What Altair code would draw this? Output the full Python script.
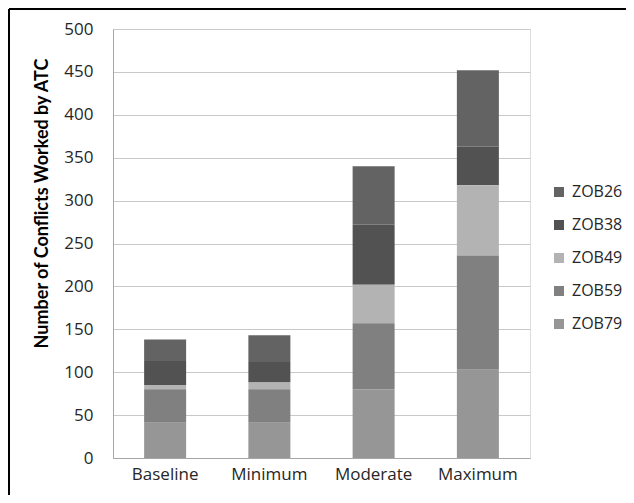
import altair as alt
import pandas as pd

scenarios = ["Baseline", "Minimum", "Moderate", "Maximum"]
sectors = ["ZOB26", "ZOB38", "ZOB49", "ZOB59", "ZOB79"]
colors = ["#636363", "#525252", "#b3b3b3", "#808080", "#969696"]
# stacking order bottom -> top
stack_order = {"ZOB79": 0, "ZOB59": 1, "ZOB49": 2, "ZOB38": 3, "ZOB26": 4}

zob79 = [41, 41, 80, 103]
zob59 = [39, 39, 77, 133]
zob49 = [5, 8, 45, 82]
zob38 = [28, 24, 70, 45]
zob26 = [25, 31, 68, 89]

series = {"ZOB26": zob26, "ZOB38": zob38, "ZOB49": zob49, "ZOB59": zob59, "ZOB79": zob79}
rows = []
for s in sectors:
    for i, sc in enumerate(scenarios):
        rows.append({"Scenario": sc, "Sector": s, "Conflicts": series[s][i], "ord": stack_order[s]})
df = pd.DataFrame(rows)

FONT = "Open Sans"
TFONT = "Lato"

bars = alt.Chart(df).mark_bar(size=42).encode(
    x=alt.X("Scenario:N", sort=scenarios, title=None,
            axis=alt.Axis(labelAngle=0, labelFontSize=17, labelColor="#262626",
                          labelFont=FONT, ticks=False, tickSize=0, labelPadding=8,
                          domainColor="#a6a6a6", grid=False)),
    y=alt.Y("sum(Conflicts):Q", title="Number of Conflicts Worked by ATC",
            scale=alt.Scale(domain=[0, 500], nice=False),
            axis=alt.Axis(values=list(range(0, 501, 50)), labelFontSize=17,
                          labelColor="#262626", labelFont=FONT, ticks=False, tickSize=0,
                          labelPadding=20, gridColor="#c8c8c8", domainColor="#a6a6a6",
                          titleFontSize=18, titleFont=TFONT, titleFontWeight="bold",
                          titleColor="#000000", titleX=-71, titleY=174,
                          titleBaseline="middle", titleAngle=270)),
    color=alt.Color("Sector:N", scale=alt.Scale(domain=sectors, range=colors),
                    legend=alt.Legend(title=None, orient="none", legendX=438, legendY=155,
                                      symbolType="square", symbolSize=100,
                                      symbolStrokeWidth=0, labelFontSize=16,
                                      labelFont=FONT, labelColor="#262626",
                                      labelOffset=5, rowPadding=17, padding=0)),
    order=alt.Order("ord:Q", sort="ascending"),
)

vline = alt.Chart(df).mark_rule(color="black", strokeWidth=2).encode(
    x=alt.value(-104), y=alt.value(-20), y2=alt.value(470)
)
hline = alt.Chart(df).mark_rule(color="black", strokeWidth=2).encode(
    y=alt.value(-20), x=alt.value(-104), x2=alt.value(520)
)

chart = alt.layer(bars, vline, hline).properties(
    width=417, height=429,
    autosize=alt.AutoSizeParams(type="none"),
    padding={"left": 105, "top": 21, "right": 96, "bottom": 37},
).configure_view(stroke=None).configure(background="white")

chart.save("out.html", embed_options={"renderer": "svg", "actions": False})
